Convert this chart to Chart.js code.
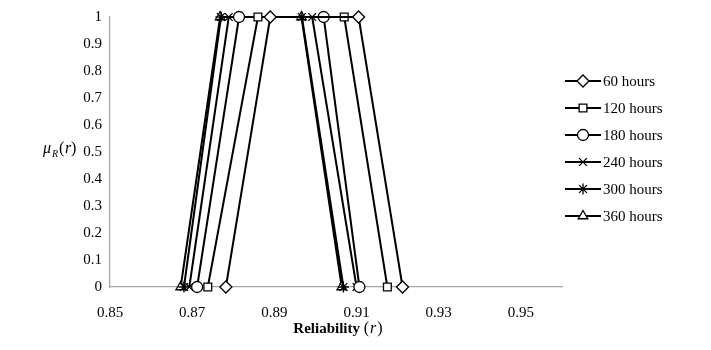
<!DOCTYPE html>
<html>
<head>
<meta charset="utf-8">
<script src="https://cdn.jsdelivr.net/npm/chart.js@4.4.1/dist/chart.umd.min.js"></script>
<style>
html,body{margin:0;padding:0;background:#fff;}
#wrap{width:711px;height:350px;position:relative;}
</style>
</head>
<body>
<div id="wrap"><canvas id="c" width="711" height="350"></canvas></div>
<script>
// Data: trapezoidal membership functions (a, b, c, d)
const seriesNames = ["60 hours", "120 hours", "180 hours", "240 hours", "300 hours", "360 hours"];
const memberY = [0, 1, 1, 0];
const r60  = [0.8782, 0.8890, 0.9105, 0.9212];
const r120 = [0.8738, 0.8860, 0.9070, 0.9175];
const r180 = [0.8712, 0.8814, 0.9020, 0.9107];
const r240 = [0.8693, 0.8789, 0.8992, 0.9100];
const r300 = [0.8680, 0.8770, 0.8967, 0.9068];
const r360 = [0.8672, 0.8768, 0.8966, 0.9064];
const xTicks = [0.85, 0.87, 0.89, 0.91, 0.93, 0.95];
const yTicks = [0, 0.1, 0.2, 0.3, 0.4, 0.5, 0.6, 0.7, 0.8, 0.9, 1];
const pointStyles = ["rectRot", "rect", "circle", "crossRot", "star", "triangle"];

const seriesX = [r60, r120, r180, r240, r300, r360];
const FONT = "'Liberation Serif', 'Times New Roman', serif";

const datasets = seriesX.map((xs, i) => ({
  label: seriesNames[i],
  data: xs.map((x, k) => ({x: x, y: memberY[k]})),
  borderColor: '#000',
  backgroundColor: '#fff',
  borderWidth: 2,
  pointStyle: pointStyles[i],
  pointRadius: pointStyles[i] === 'rectRot' ? 6 : 5.5,
  pointBorderColor: '#000',
  pointBackgroundColor: '#fff',
  pointBorderWidth: 1.3,
  tension: 0,
  fill: false,
  clip: false
}));

const overlay = {
  id: 'overlay',
  afterDraw(chart) {
    const ctx = chart.ctx;
    ctx.save();
    ctx.fillStyle = '#000';
    // Y-axis title: μR(r)
    ctx.textBaseline = 'alphabetic';
    ctx.font = 'italic 16px ' + FONT;
    ctx.fillText('μ', 43, 153);
    ctx.font = 'italic 10px ' + FONT;
    ctx.fillText('R', 52, 157);
    ctx.font = '16px ' + FONT;
    ctx.fillText('(', 59, 153);
    ctx.font = 'italic 16px ' + FONT;
    ctx.fillText('r', 65, 153);
    ctx.font = '16px ' + FONT;
    ctx.fillText(')', 71, 153);

    // X-axis title: Reliability (r)
    ctx.font = 'bold 15px ' + FONT;
    const t1 = 'Reliability ';
    const w1 = ctx.measureText(t1).width;
    ctx.font = '16px ' + FONT;
    const wp = ctx.measureText('(').width;
    ctx.font = 'italic 16px ' + FONT;
    const wr = ctx.measureText('r').width;
    const total = w1 + wp * 2 + wr + 2;
    let x = 338 - total / 2;
    const y = 333;
    ctx.font = 'bold 15px ' + FONT;
    ctx.fillText(t1, x, y); x += w1;
    ctx.font = '16px ' + FONT;
    ctx.fillText('(', x, y); x += wp + 1;
    ctx.font = 'italic 16px ' + FONT;
    ctx.fillText('r', x, y); x += wr + 1;
    ctx.font = '16px ' + FONT;
    ctx.fillText(')', x, y);

    // Legend
    chart.data.datasets.forEach((ds, i) => {
      const ly = 81 + 27 * i;
      ctx.strokeStyle = '#000';
      ctx.lineWidth = 2;
      ctx.beginPath();
      ctx.moveTo(565, ly);
      ctx.lineTo(601, ly);
      ctx.stroke();
      ctx.lineWidth = 1.3;
      ctx.fillStyle = '#fff';
      Chart.helpers.drawPoint(ctx, {pointStyle: ds.pointStyle, radius: ds.pointRadius, rotation: 0, borderWidth: 1.3}, 583, ly);
      ctx.fillStyle = '#000';
      ctx.font = '15px ' + FONT;
      ctx.textBaseline = 'middle';
      ctx.fillText(ds.label, 603, ly + 1);
    });
    ctx.restore();
  }
};

new Chart(document.getElementById('c'), {
  type: 'line',
  data: {datasets: datasets},
  options: {
    responsive: false,
    animation: false,
    devicePixelRatio: 1,
    layout: {padding: {top: 17, right: 149, left: 0, bottom: 0}},
    plugins: {legend: {display: false}, tooltip: {enabled: false}},
    scales: {
      x: {
        type: 'linear',
        min: 0.85,
        max: 0.96,
        afterBuildTicks(scale) { scale.ticks = xTicks.map(v => ({value: v})); },
        afterFit(scale) { scale.height = 63; },
        grid: {display: false, drawTicks: false},
        border: {display: true, color: '#a6a6a6', width: 1.3},
        ticks: {
          color: '#000',
          font: {family: FONT, size: 15},
          padding: 17,
          maxRotation: 0,
          callback: (v) => v.toFixed(2)
        }
      },
      y: {
        type: 'linear',
        min: 0,
        max: 1,
        afterBuildTicks(scale) { scale.ticks = yTicks.map(v => ({value: v})); },
        afterFit(scale) { scale.width = 110; },
        grid: {display: false, drawTicks: false},
        border: {display: true, color: '#a6a6a6', width: 1.3},
        ticks: {
          color: '#000',
          font: {family: FONT, size: 15},
          padding: 8,
          callback: (v) => String(Math.round(v * 10) / 10)
        }
      }
    }
  },
  plugins: [overlay]
});
</script>
</body>
</html>
